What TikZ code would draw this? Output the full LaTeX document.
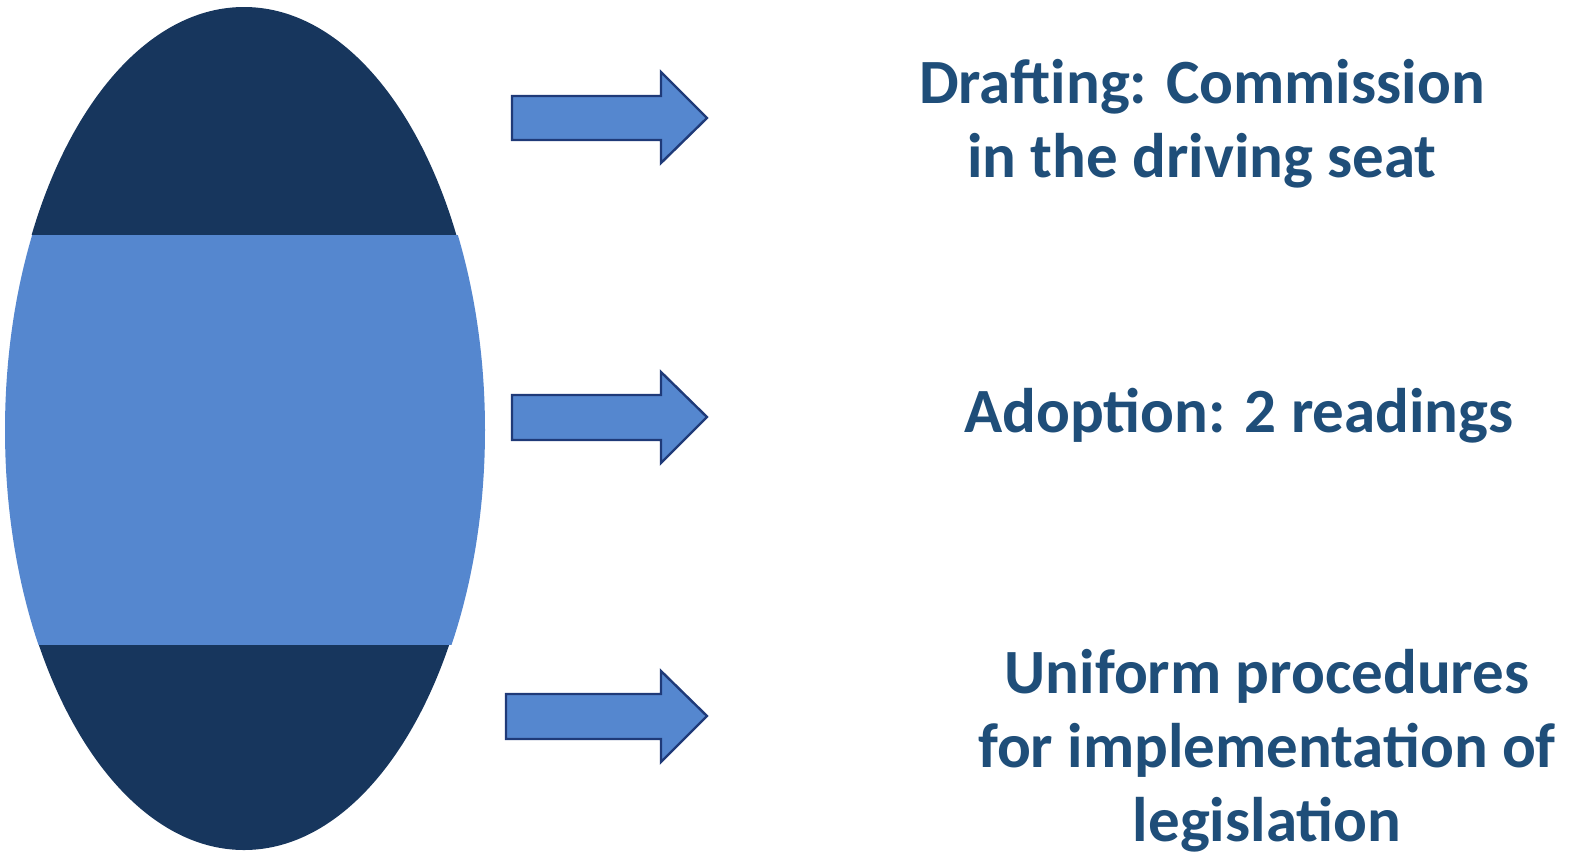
\documentclass[tikz,border=0pt]{standalone}
\usepackage{fontspec}
\setmainfont{Carlito}
\definecolor{darkband}{HTML}{17365D}
\definecolor{lightband}{HTML}{5587CF}
\definecolor{arrowline}{HTML}{1F3A78}
\definecolor{textblue}{HTML}{1F4E79}
\begin{document}
\begin{tikzpicture}[x=0.5pt,y=-0.5pt,
  blockarrow/.style={fill=lightband,draw=arrowline,line width=1.2pt,line join=miter},
  stagetext/.style={text=textblue,font=\bfseries\fontsize{31.5}{37}\selectfont,align=center,anchor=base,inner sep=0pt}]
\useasboundingbox (0,0) rectangle (1592,864);
% ellipse with bands
\begin{scope}
  \clip (244,428.5) ellipse [x radius=239, y radius=421.5];
  \fill[darkband] (0,0) rectangle (500,235);
  \fill[darkband] (0,645) rectangle (500,864);
\end{scope}
\begin{scope}
  \clip (245,430) ellipse [x radius=240, y radius=421.5];
  \fill[lightband] (0,235) rectangle (500,645);
\end{scope}
\node[coordinate] (ell) at (244,428.5) {};
% arrows
\draw[blockarrow] (512,96) -- (661,96) -- (661,72) -- (707,118) -- (661,163) -- (661,140) -- (512,140) -- cycle;
\draw[blockarrow] (512,395) -- (661,395) -- (661,372) -- (707,417) -- (661,463) -- (661,440) -- (512,440) -- cycle;
\draw[blockarrow] (506,694) -- (661,694) -- (661,671) -- (707,716) -- (661,762) -- (661,739) -- (506,739) -- cycle;
% texts (base anchor = baseline of last line)
\node[stagetext] (t1) at (1202,177) {Drafting: Commission\\in the driving seat};
\node[stagetext] (t2) at (1239,432) {Adoption: 2 readings};
\node[stagetext] (t3) at (1267,841) {Uniform procedures\\for implementation of\\legislation};
\end{tikzpicture}
\end{document}
